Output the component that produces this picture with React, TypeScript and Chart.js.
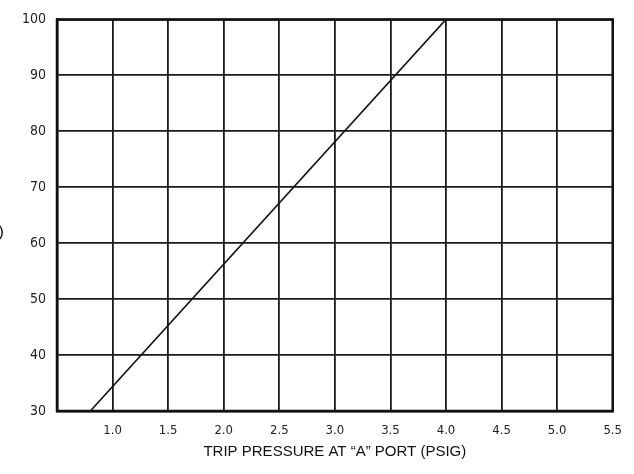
import React, { useEffect, useRef } from "react";
import { Chart, registerables } from "chart.js";

Chart.register(...registerables);

const xTicks = [1.0, 1.5, 2.0, 2.5, 3.0, 3.5, 4.0, 4.5, 5.0, 5.5];
const yTicks = [30, 40, 50, 60, 70, 80, 90, 100];
const lineX = [0.8, 4.0];
const lineY = [30, 100];
const xTitle = "TRIP PRESSURE AT \u201CA\u201D PORT (PSIG)";
const yTitleFragment = "(PSIG)";

export default function App() {
  const ref = useRef<HTMLCanvasElement | null>(null);
  useEffect(() => {
    if (!ref.current) return;
    const sideTitle = {
      id: "sideTitle",
      afterDraw(chart: any) {
        const ctx = chart.ctx;
        ctx.save();
        ctx.fillStyle = "#111";
        ctx.font = "17px 'Liberation Sans', Arial, sans-serif";
        ctx.textAlign = "right";
        ctx.textBaseline = "middle";
        ctx.fillText(yTitleFragment, 4, 232);
        ctx.restore();
      },
    };
    const chart = new Chart(ref.current, {
      type: "scatter",
      data: {
        datasets: [
          {
            data: lineX.map((x, i) => ({ x, y: lineY[i] })),
            showLine: true,
            borderColor: "#111",
            borderWidth: 1.6,
            pointRadius: 0,
          },
        ],
      },
      options: {
        animation: false,
        responsive: false,
        layout: { padding: { left: 0, right: 11, top: 19, bottom: 0 } },
        plugins: { legend: { display: false }, tooltip: { enabled: false } },
        scales: {
          x: {
            type: "linear",
            min: 0.5,
            max: 5.5,
            afterBuildTicks(scale: any) {
              scale.ticks = [0.5, ...xTicks].map((v) => ({ value: v }));
            },
            afterFit(scale: any) {
              scale.height = 63;
            },
            grid: { color: "#1a1a1a", lineWidth: 1.8, drawTicks: false },
            border: { color: "#111", width: 2.5 },
            ticks: {
              padding: 12,
              color: "#222",
              font: { family: "'DejaVu Sans Condensed', 'DejaVu Sans', sans-serif", size: 13 },
              callback: (v: any) => (Number(v) < 0.9 ? "" : Number(v).toFixed(1)),
            },
            title: {
              display: true,
              text: xTitle,
              color: "#111",
              font: { family: "'Liberation Sans', Arial, sans-serif", size: 15 },
              padding: { top: 4, bottom: 13 },
            },
          },
          y: {
            type: "linear",
            min: 30,
            max: 100,
            afterBuildTicks(scale: any) {
              scale.ticks = yTicks.map((v) => ({ value: v }));
            },
            afterFit(scale: any) {
              scale.width = 57;
            },
            grid: { color: "#1a1a1a", lineWidth: 1.8, drawTicks: false },
            border: { color: "#111", width: 2.5 },
            ticks: {
              padding: 11,
              color: "#222",
              font: { family: "'DejaVu Sans Condensed', 'DejaVu Sans', sans-serif", size: 14 },
            },
          },
        },
      },
      plugins: [
        sideTitle,
        {
          id: "frame",
          afterDraw(chart: any) {
            const { ctx, chartArea: a } = chart;
            ctx.save();
            ctx.strokeStyle = "#111";
            ctx.lineWidth = 2.5;
            ctx.strokeRect(a.left, a.top, a.right - a.left, a.bottom - a.top);
            ctx.restore();
          },
        },
      ],
    } as any);
    return () => chart.destroy();
  }, []);
  return (
    <div style={{ position: "fixed", left: 0, top: 0, width: 634, height: 474, background: "#fff" }}>
      <canvas ref={ref} width={634} height={474} style={{ width: 634, height: 474 }} />
    </div>
  );
}
